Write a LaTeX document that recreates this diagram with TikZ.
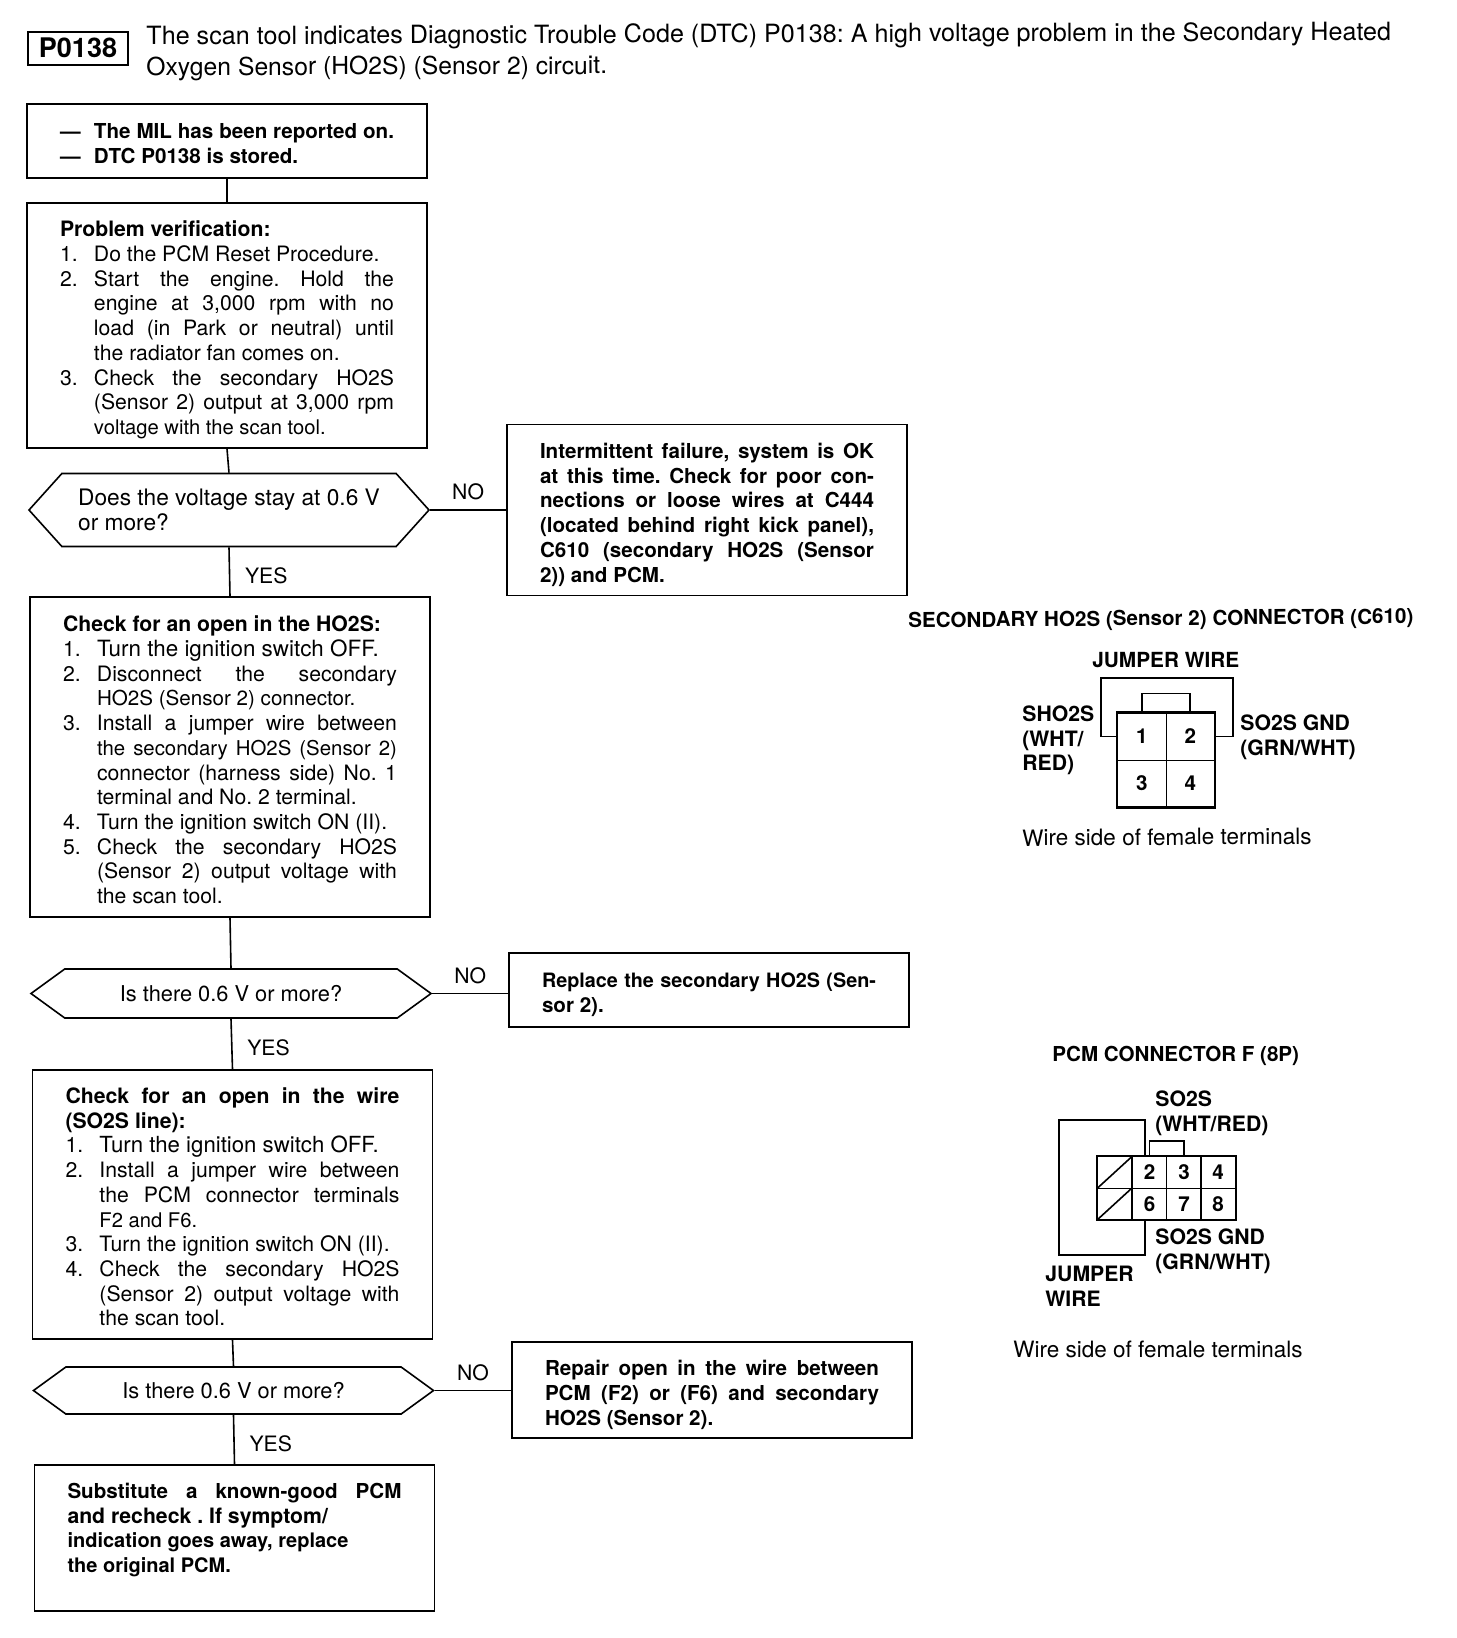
\documentclass[tikz,border=0pt]{standalone}
\usepackage{fontspec}
\setmainfont{TeX Gyre Heros}
\usetikzlibrary{shapes.symbols}
\newcommand{\sz}[1]{\fontsize{#1}{12.35}\selectfont}
\newcommand{\jrow}[2]{\makebox[17pt][l]{#1}\makebox[150pt][s]{#2}}
\newcommand{\prow}[2]{\makebox[17pt][l]{#1}{#2}}
\newcommand{\frow}[1]{\makebox[167pt][s]{#1}}
\tikzset{
  basefont/.style={font=\fontsize{10.6}{12.35}\selectfont},
  boldfont/.style={font=\fontsize{10.3}{12.35}\selectfont\bfseries},
  stepbox/.style={draw, line width=0.8pt, basefont, align=flush left, text width=167pt, inner xsep=16.5pt, inner ysep=0pt, execute at begin node={\mbox{}\\[#1]}},
  stepbox/.default=0pt,
  resultbox/.style={stepbox=#1, boldfont},
  resultbox/.default=0pt,
  decision/.style={draw, line width=0.8pt, font=\fontsize{10.9}{12.35}\selectfont, align=flush left, signal, signal to=west and east, minimum width=200pt, inner sep=0pt},
  link/.style={line width=0.8pt},
  answer/.style={basefont, inner sep=0pt},
  caption/.style={font=\fontsize{11.25}{12.35}\selectfont, anchor=west, inner sep=0pt},
  pinlabel/.style={font=\fontsize{10.6}{12.35}\selectfont\bfseries, anchor=west, inner sep=0pt},
  cella/.style={draw, line width=0.5pt, minimum width=24.25pt, minimum height=23.5pt, inner sep=0pt, boldfont},
  cellb/.style={draw, line width=0.5pt, minimum width=17.25pt, minimum height=15.75pt, inner sep=0pt, boldfont}
}
\begin{document}
\frenchspacing
\begin{tikzpicture}[x=0.5pt, y=-0.5pt]
\useasboundingbox (0,0) rectangle (1456,1638);

\node[draw, line width=1pt, minimum width=50pt, minimum height=16.5pt, inner sep=0pt, font=\fontsize{13.5}{15}\selectfont\bfseries] (code) at (78,48) {P0138};
\node[anchor=west, inner sep=0pt, rotate=0.2, font=\fontsize{12.57}{16}\selectfont] (head1) at (146,38) {The scan tool indicates Diagnostic Trouble Code (DTC) P0138: A high voltage problem in the Secondary Heated};
\node[anchor=west, inner sep=0pt, rotate=0.2, font=\fontsize{12.35}{16}\selectfont] (head2) at (146,69) {Oxygen Sensor (HO2S) (Sensor 2) circuit.};

\node[resultbox=-2pt, minimum height=37pt] (start) at (227,141) {\jrow{---}{The MIL has been reported on.}\\\prow{---}{DTC P0138 is stored.}};

\node[stepbox, minimum height=122.5pt] (verify) at (227,325.5) {{\bfseries Problem verification:}\\
\prow{1.}{Do the PCM Reset Procedure.}\\
\jrow{2.}{Start the engine. Hold the}\\
\jrow{}{engine at 3,000 rpm with no}\\
\jrow{}{load (in Park or neutral) until}\\
\prow{}{the radiator fan comes on.}\\
\jrow{3.}{Check the secondary HO2S}\\
\jrow{}{(Sensor 2) output at 3,000 rpm}\\
\prow{}{\sz{10.1}voltage with the scan tool.}};

\node[decision, minimum height=36.5pt, signal pointer angle=96, font=\fontsize{11.35}{12.35}\selectfont] (ask1) at (229,510) {Does the voltage stay at 0.6 V\\or more?};

\node[resultbox, minimum height=85.5pt] (fail1) at (707,510) {\frow{Intermittent failure, system is OK}\\
\frow{at this time. Check for poor con-}\\
\frow{nections or loose wires at C444}\\
\frow{(located behind right kick panel),}\\
\frow{C610 (secondary HO2S (Sensor}\\
2)) and PCM.};

\node[stepbox=-1.5pt, minimum height=160pt] (open) at (230,757) {{\bfseries Check for an open in the HO2S:}\\
\prow{1.}{\sz{11.2}Turn the ignition switch OFF.}\\
\jrow{2.}{Disconnect the secondary}\\
\prow{}{\sz{10.3}HO2S (Sensor 2) connector.}\\
\jrow{3.}{Install a jumper wire between}\\
\jrow{}{\sz{10.2}the secondary HO2S (Sensor 2)}\\
\jrow{}{connector (harness side) No. 1}\\
\prow{}{terminal and No. 2 terminal.}\\
\prow{4.}{Turn the ignition switch ON (II).}\\
\jrow{5.}{Check the secondary HO2S}\\
\jrow{}{(Sensor 2) output voltage with}\\
\prow{}{the scan tool.}};

\node[decision, minimum height=24.5pt, signal pointer angle=72] (ask2) at (231,993.5) {Is there 0.6 V or more?};

\node[resultbox, minimum height=37pt] (fail2) at (709,990) {\frow{\sz{9.9}Replace the secondary HO2S (Sen-}\\sor 2).};

\node[stepbox=-2pt, minimum height=134.5pt] (wire) at (232.5,1204.5) {\frow{\bfseries Check for an open in the wire}\\
{\bfseries (SO2S line):}\\
\prow{1.}{\sz{11.1}Turn the ignition switch OFF.}\\
\jrow{2.}{Install a jumper wire between}\\
\jrow{}{the PCM connector terminals}\\
\prow{}{\sz{10.1}F2 and F6.}\\
\prow{3.}{Turn the ignition switch ON (II).}\\
\jrow{4.}{Check the secondary HO2S}\\
\jrow{}{(Sensor 2) output voltage with}\\
\prow{}{the scan tool.}};

\node[decision, minimum height=23.5pt, signal pointer angle=72] (ask3) at (233.5,1390.5) {Is there 0.6 V or more?};

\node[resultbox, minimum height=48pt] (fail3) at (712,1390) {\frow{Repair open in the wire between}\\
\frow{PCM (F2) or (F6) and secondary}\\
HO2S (Sensor 2).};

\node[resultbox=-4.3pt, minimum height=73pt] (pcm) at (234.5,1538) {\frow{Substitute a known-good PCM}\\
{\sz{10.6}and recheck . If symptom/}\\
{\sz{10}indication goes away, replace}\\
{\sz{10}the original PCM.}\\[-1.9pt]\mbox{}};

\draw[link] (start.south) -- (verify.north);
\draw[link] (verify.south) -- (ask1.north);
\draw[link] (ask1.east) -- (ask1.east -| fail1.west) node[midway, above=4.5pt, answer] (no1) {NO};
\draw[link] (ask1.south) -- (open.north) node[midway, right=7.4pt, yshift=-2pt, answer] (yes1) {YES};
\draw[link] (open.south) -- (ask2.north);
\draw[link] (ask2.east) -- (ask2.east -| fail2.west) node[midway, above=4.5pt, answer] (no2) {NO};
\draw[link] (ask2.south) -- (wire.north) node[midway, right=7.4pt, yshift=-2pt, answer] (yes2) {YES};
\draw[link] (wire.south) -- (ask3.north);
\draw[link] (ask3.east) -- (ask3.east -| fail3.west) node[midway, above=4.5pt, answer] (no3) {NO};
\draw[link] (ask3.south) -- (pcm.north) node[midway, right=7.4pt, yshift=-2pt, answer] (yes3) {YES};

\node[pinlabel, font=\fontsize{10.3}{12.35}\selectfont\bfseries, rotate=0.45] (titlea) at (908,622) {SECONDARY HO2S (Sensor 2) CONNECTOR (C610)};
\node[pinlabel, font=\fontsize{10.4}{12.35}\selectfont\bfseries] (jumpa) at (1092,660) {JUMPER WIRE};
\node[pinlabel, align=flush left] (sho) at (1022,740.5) {SHO2S\\(WHT/\\RED)};
\node[pinlabel, align=flush left] (gnda) at (1240,737.5) {SO2S GND\\(GRN/WHT)};
\node[caption, rotate=0.4] (sidea) at (1022,838) {Wire side of female terminals};

\node[cella] (c1) at (1141.75,736.5) {1};
\node[cella] (c2) at (1190.25,736.5) {2};
\node[cella] (c3) at (1141.75,783.5) {3};
\node[cella] (c4) at (1190.25,783.5) {4};
\draw[line width=1.2pt] (c1.north west) rectangle (c4.south east);
\draw[link] (c1.north) -- ++(0,-19) -| (c2.north);
\coordinate (jtl) at (1101,678);
\coordinate (jtr) at (1233,678);
\draw[link] (c1.west) -| (jtl) -- (jtr) |- (c2.east);

\node[pinlabel, font=\fontsize{10.3}{12.35}\selectfont\bfseries] (titleb) at (1052,1056) {PCM CONNECTOR F (8P)};
\node[pinlabel, align=flush left] (so) at (1155,1113) {SO2S\\(WHT/RED)};
\node[pinlabel, align=flush left] (gndb) at (1155,1251) {SO2S GND\\(GRN/WHT)};
\node[pinlabel, align=flush left] (jumpb) at (1045,1286.5) {JUMPER\\WIRE};
\node[caption] (sideb) at (1013,1349) {Wire side of female terminals};

\node[cellb] (p1) at (1114.5,1172.5) {};
\node[cellb] (p2) at (1149.5,1172.5) {2};
\node[cellb] (p3) at (1184,1172.5) {3};
\node[cellb] (p4) at (1218,1172.5) {4};
\node[cellb] (p5) at (1114.5,1204) {};
\node[cellb] (p6) at (1149.5,1204) {6};
\node[cellb] (p7) at (1184,1204) {7};
\node[cellb] (p8) at (1218,1204) {8};
\draw[line width=1.2pt] (p1.north west) rectangle (p8.south east);
\draw[link] (p1.south west) -- (p1.north east);
\draw[link] (p5.south west) -- (p5.north east);
\draw[link] (p2.north) -- ++(0,-15) -| (p3.north);
\coordinate (ka) at (1145,1120);
\coordinate (kb) at (1059,1120);
\coordinate (kc) at (1059,1255);
\coordinate (kd) at (1145,1255);
\draw[link] (ka |- p2.north) -- (ka) -- (kb) -- (kc) -- (kd) -- (kd |- p6.south);
\end{tikzpicture}
\end{document}
